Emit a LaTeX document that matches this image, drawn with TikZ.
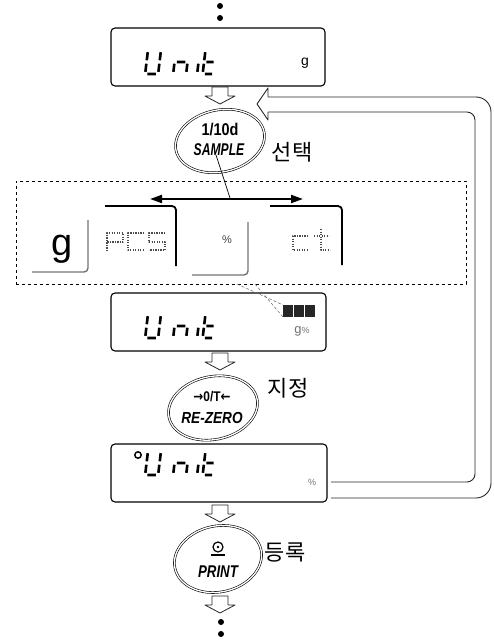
\documentclass[tikz,border=0pt]{standalone}
\usepackage{fontspec}
\setmainfont{Liberation Sans}
\newfontfamily\kr{Noto Sans CJK KR}
\newfontfamily\dejavu{DejaVu Sans}
\usetikzlibrary{arrows.meta,shapes.geometric}
\newcommand\unitword[2]{%
  \begin{scope}[shift={(#1,#2)},xslant=0.12]
    % U : f e d c b
    \draw[seg] (0,2.2)--(0,10.3) (0,13.7)--(0,21.8) (2.2,24)--(10.8,24)
               (13,13.7)--(13,21.8) (13,2.2)--(13,10.3);
    % n : g e c
    \draw[seg] (30.2,12)--(38.8,12) (28,13.7)--(28,21.8) (41,13.7)--(41,21.8);
    % i : e
    \draw[seg] (52,13.7)--(52,21.8);
    % t : f e g d
    \draw[seg] (57.5,2.2)--(57.5,10.3) (57.5,13.7)--(57.5,21.8) (59.7,12)--(67,12) (59.7,24)--(67,24);
  \end{scope}}
\newcommand\hollowdown[2]{%
  \draw[hollow] (#1-8,#2) -- (#1+8,#2) -- (#1+8,#2+9) -- (#1+15,#2+9) -- (#1,#2+17)
     -- (#1-15,#2+9) -- (#1-8,#2+9) -- cycle;}
\begin{document}
\begin{tikzpicture}[x=1pt,y=-1pt,line join=round,
  lcd/.style={draw=black,line width=1.1pt,rounded corners=4pt,inner sep=0pt},
  seg/.style={line width=2.6pt,line cap=butt},
  hollow/.style={draw=black!85,line width=0.8pt,fill=white},
  btn/.style={ellipse,draw=black,double=white,double distance=1.3pt,line width=0.6pt,inner sep=0pt},
  lbl/.style={font=\kr\fontsize{22}{22}\selectfont,inner sep=0pt},
  btxt/.style={font=\bfseries\fontsize{16}{16}\selectfont,inner sep=0pt,xscale=0.85},
  bitxt/.style={font=\bfseries\itshape\fontsize{16}{16}\selectfont,inner sep=0pt,xscale=0.85},
  dm/.style={draw=black!70,line width=1.3pt,dash pattern=on 1.3pt off 1.2pt},
  loopline/.style={draw=black!85,line width=0.9pt},
  cardblack/.style={draw=black,line width=1.8pt,rounded corners=4pt},
  cardgray/.style={draw=black!55,line width=1.4pt,rounded corners=4pt},
  tiny/.style={inner sep=0pt,text=black!55},
]
\useasboundingbox (0,0) rectangle (494,642);
% top dots
\fill (220,6) circle (3);
\fill (220,18) circle (3);
% box 1
\node[lcd,minimum width=214pt,minimum height=58pt] (box1) at (218,57) {};
\unitword{148}{50}
\node[inner sep=0pt,font=\fontsize{14}{14}\selectfont] (g1) at (305,63) {g};
\hollowdown{220}{87}
% sample button
\node[btn,minimum width=90pt,minimum height=62pt,rotate=12] (sample) at (220,141) {};
\node[btxt,font=\bfseries\fontsize{17}{17}\selectfont] (s1) at (220,130) {1/10d};
\node[bitxt,font=\bfseries\itshape\fontsize{17}{17}\selectfont,xscale=0.84] (s2) at (219,150) {SAMPLE};
\node[lbl] (sel) at (292,152) {선택};
% selection area
\node[draw,dashed,line width=0.8pt,minimum width=450pt,minimum height=103pt,inner sep=0pt] (area) at (241,232.5) {};
\coordinate (arL) at (150,199);
\coordinate (arR) at (303,199);
\coordinate (arM) at (230,198);
\draw[line width=2pt,{Triangle[length=12pt,width=8pt]}-{Triangle[length=12pt,width=8pt]}] (arL) -- (arR);
\draw[line width=0.7pt] (216,155) -- (arM);
% cards
\draw[cardgray] (32,272) -| (88,220);
\node[inner sep=0pt,anchor=base,font=\fontsize{38}{38}\selectfont] (cg) at (62,255) {g};
\draw[cardblack] (105,206) -| (176,266);
\draw[cardgray] (192,275) -| (248,222);
\node[inner sep=0pt,text=black!75,font=\fontsize{11}{11}\selectfont] (cp) at (227,240) {\%};
\draw[cardblack] (270,206) -| (342,265);
% dot matrix pcs
\draw[dm] (107,251) -- (107,233) -- (123,233) -- (123,242) -- (107,242);
\draw[dm] (144,233) -- (128,233) -- (128,250) -- (144,250);
\draw[dm] (165,233) -- (149,233) -- (149,242) -- (165,242) -- (165,250) -- (149,250);
% dot matrix ct
\draw[dm] (308,236) -- (293,236) -- (293,250) -- (308,250);
\draw[dm] (321,229) -- (321,250) -- (330,250);
\draw[dm] (314,236) -- (329,236);
% box 2
\node[lcd,minimum width=215pt,minimum height=58pt] (box2) at (218.5,322) {};
\unitword{148}{314}
\fill[black!85] (283,305) rectangle (293,317);
\fill[black!85] (294,305) rectangle (304,317);
\fill[black!85] (305,305) rectangle (315,317);
\node[tiny,font=\fontsize{13}{13}\selectfont] (g2) at (302,331) {g\fontsize{9}{9}\selectfont\%};
\draw[black!60,line width=0.5pt,densely dashed] (237,284) -- (283,305);
\draw[black!60,line width=0.5pt,densely dashed] (255,284) -- (283,317);
\hollowdown{220}{353}
% re-zero button
\node[btn,minimum width=90pt,minimum height=63pt,rotate=12] (rezero) at (213,408) {};
\node[btxt,font=\bfseries\fontsize{14}{14}\selectfont] (r1) at (212,397) {{\dejavu\bfseries →}0/T{\dejavu\bfseries ←}};
\node[bitxt] (r2) at (212,418) {RE-ZERO};
\node[lbl] (des) at (288,388) {지정};
% box 3
\node[lcd,minimum width=216pt,minimum height=58pt] (box3) at (219,473) {};
\draw[line width=1.5pt] (138,455) circle (3.2);
\unitword{148}{451}
\node[tiny,font=\fontsize{9}{9}\selectfont] (p3) at (312,482) {\%};
% return loop
\coordinate (lpA) at (331,498);
\coordinate (lpB) at (331,482);
\coordinate (hd) at (257,104);
\draw[loopline,rounded corners=15pt] (lpA) -- (491,498) |- (268,97);
\draw[loopline,rounded corners=8pt] (lpB) -- (475,482) |- (268,112);
\draw[loopline] (268,97) -- (268,88) -- (hd) -- (268,120) -- (268,112);
\hollowdown{220}{505}
% print button
\node[btn,minimum width=88pt,minimum height=66pt,rotate=12] (print) at (218,559) {};
\draw[line width=1.2pt] (218,547) circle (5);
\fill (218,547) circle (1.4);
\draw[line width=1.2pt] (211,555) -- (225,555);
\node[bitxt,font=\bfseries\itshape\fontsize{17}{17}\selectfont,xscale=0.92] (p1) at (218,572) {PRINT};
\node[lbl] (reg) at (285,552) {등록};
\hollowdown{220}{596}
\fill (221,622) circle (3);
\fill (221,634) circle (3);
\end{tikzpicture}
\end{document}
